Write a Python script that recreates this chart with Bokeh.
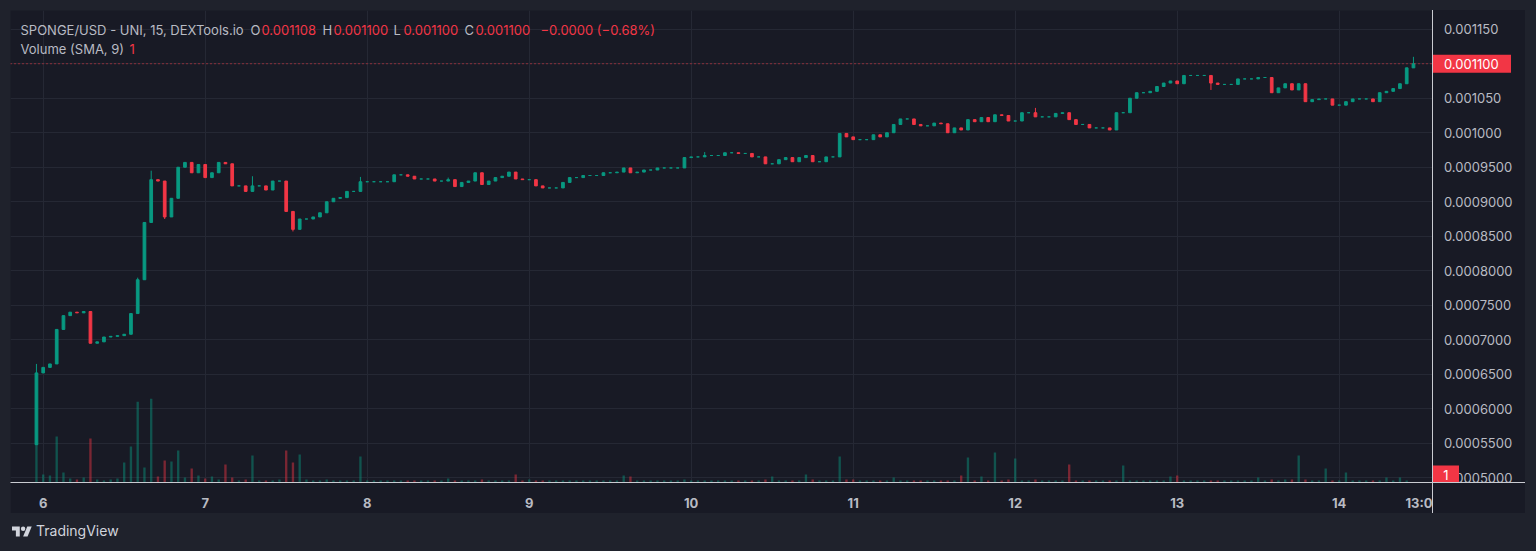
from bokeh.plotting import figure
from bokeh.models import (Range1d, FixedTicker, Label, Span, ColumnDataSource, Div,
                          GlobalInlineStyleSheet)
from bokeh.layouts import column, row
from bokeh.core.properties import value
from bokeh.embed import file_html
from bokeh.resources import INLINE

# ---------------- data (hourly candles, hour 0 = day 6 00:00) ----------------
start_hour = -1
first_open = 0.000548
closes = [
    0.000652, 0.000660, 0.000665, 0.000715, 0.000735, 0.000740, 0.000739, 0.000741,
    0.000695, 0.000697, 0.000704, 0.000705, 0.000706, 0.000708, 0.000738, 0.000787,
    0.000870, 0.000932, 0.000930, 0.000878, 0.000905, 0.000950, 0.000957, 0.000942,
    0.000954, 0.000935, 0.000942, 0.000957, 0.000955, 0.000923, 0.000923, 0.000915,
    0.000923, 0.000923, 0.000917, 0.000930, 0.000930, 0.000886, 0.000860, 0.000875,
    0.000875, 0.000878, 0.000884, 0.000900, 0.000905, 0.000906, 0.000915, 0.000915,
    0.000929, 0.000929, 0.000929, 0.000929, 0.000929, 0.000939, 0.000939, 0.000937,
    0.000933, 0.000933, 0.000933, 0.000930, 0.000930, 0.000932, 0.000922, 0.000928,
    0.000930, 0.000942, 0.000925, 0.000930, 0.000935, 0.000937, 0.000943, 0.000933,
    0.000932, 0.000932, 0.000923, 0.000920, 0.000920, 0.000920, 0.000928, 0.000935,
    0.000935, 0.000938, 0.000938, 0.000938, 0.000942, 0.000942, 0.000943, 0.000949,
    0.000942, 0.000943, 0.000946, 0.000946, 0.000949, 0.000949, 0.000949, 0.000949,
    0.000964, 0.000965, 0.000965, 0.000967, 0.000967, 0.000967, 0.000971, 0.000971,
    0.000970, 0.000970, 0.000965, 0.000965, 0.000955, 0.000955, 0.000961, 0.000964,
    0.000958, 0.000964, 0.000967, 0.000958, 0.000958, 0.000965, 0.000965, 0.000999,
    0.000994, 0.000990, 0.000990, 0.000990, 0.000997, 0.000994, 0.001000, 0.001012,
    0.001020, 0.001020, 0.001012, 0.001010, 0.001010, 0.001014, 0.001013, 0.001000,
    0.001007, 0.001004, 0.001019, 0.001016, 0.001022, 0.001016, 0.001026, 0.001025,
    0.001017, 0.001017, 0.001029, 0.001029, 0.001023, 0.001023, 0.001023, 0.001028,
    0.001029, 0.001019, 0.001012, 0.001012, 0.001007, 0.001007, 0.001007, 0.001004,
    0.001029, 0.001029, 0.001050, 0.001058, 0.001058, 0.001060, 0.001067, 0.001072,
    0.001075, 0.001071, 0.001083, 0.001083, 0.001083, 0.001083, 0.001072, 0.001070,
    0.001070, 0.001070, 0.001078, 0.001078, 0.001078, 0.001080, 0.001080, 0.001058,
    0.001065, 0.001071, 0.001062, 0.001071, 0.001045, 0.001048, 0.001049, 0.001049,
    0.001040, 0.001040, 0.001045, 0.001049, 0.001049, 0.001049, 0.001045, 0.001058,
    0.001060, 0.001064, 0.001071, 0.001094, 0.001100,
]
wick_highs = {-1: 0.000665, 14: 0.000790, 16: 0.000945, 31: 0.000937, 47: 0.000936,
              60: 0.000935, 98: 0.000972, 147: 0.001036, 203: 0.001110}
wick_lows = {-1: 0.000548, 18: 0.000875, 37: 0.000857, 161: 0.001045, 173: 0.001062}
volumes = [
    1900, 400, 350, 2300, 500, 200, 150, 250, 2200, 150, 100, 150, 200, 1000, 1800, 4050,
    750, 4200, 300, 1100, 1050, 1600, 250, 700,
    350, 200, 300, 150, 900, 250, 100, 150, 1350, 100, 100, 100, 150, 1600, 1000, 1400,
    150, 100, 100, 150, 100, 100, 100, 100,
    1300, 100, 100, 100, 100, 100, 100, 100, 100, 100, 100, 100, 100, 200, 100, 100,
    100, 100, 150, 100, 100, 100, 100, 400,
    100, 150, 100, 100, 100, 100, 100, 100, 100, 100, 100, 100, 100, 100, 100, 350,
    300, 100, 100, 100, 100, 100, 100, 100,
    150, 100, 100, 100, 100, 100, 100, 100, 100, 100, 100, 100, 150, 300, 100, 100,
    100, 100, 400, 150, 100, 100, 100, 1300,
    150, 150, 100, 100, 100, 100, 100, 250, 100, 100, 100, 100, 100, 100, 100, 100,
    100, 350, 1250, 100, 300, 100, 1500, 100,
    150, 1200, 100, 100, 150, 100, 100, 100, 100, 900, 100, 100, 100, 100, 100, 100,
    100, 850, 100, 100, 100, 100, 100, 100,
    300, 350, 100, 100, 100, 100, 100, 100, 100, 100, 100, 100, 100, 250, 100, 150,
    100, 150, 150, 1350, 150, 100, 100, 700,
    100, 100, 500, 100, 100, 100, 100, 100, 250, 100, 250, 100, 1,
]
time_ticks = [0, 24, 48, 72, 96, 120, 144, 168, 192, 205]
time_labels = ["6", "7", "8", "9", "10", "11", "12", "13", "14", "13:0"]
price_ticks = [0.0005, 0.00055, 0.0006, 0.00065, 0.0007, 0.00075, 0.0008, 0.00085,
               0.0009, 0.00095, 0.001, 0.00105, 0.0011, 0.00115]
price_labels = ["0.0005000", "0.0005500", "0.0006000", "0.0006500", "0.0007000",
                "0.0007500", "0.0008000", "0.0008500", "0.0009000", "0.0009500",
                "0.001000", "0.001050", "0.001100", "0.001150"]
last_price = 0.0011
last_price_label = "0.001100"
last_volume_label = "1"

# ---------------- styling ----------------
BG = "#181a25"
GRID = "#252834"
TXT = "#b8bbc3"
UP = "#089981"
DOWN = "#f23645"
AXIS = "#c9cbd1"
FONT = "Inter"

# pixel helpers (reference image geometry)
def X(px):
    return (px - 42.7) / 6.75

def Y(py):
    return 0.0005 + (478.3 - py) / 34.58 * 0.00005

hours = list(range(start_hour, start_hour + len(closes)))
opens = [first_open] + closes[:-1]
highs = [wick_highs.get(h, max(o, c)) for h, o, c in zip(hours, opens, closes)]
lows = [wick_lows.get(h, min(o, c)) for h, o, c in zip(hours, opens, closes)]
colors = [UP if c >= o else DOWN for o, c in zip(opens, closes)]
src = ColumnDataSource(dict(
    x=hours, open=opens, close=closes, high=highs, low=lows,
    top=[max(o, c) for o, c in zip(opens, closes)],
    bottom=[min(o, c) for o, c in zip(opens, closes)],
    vol=volumes, color=colors))

# ---------------- main pane ----------------
p = figure(width=1422, height=503, x_range=Range1d(X(10), X(1432)),
           y_range=Range1d(Y(483), Y(10)), y_axis_location=None,
           toolbar_location=None, output_backend="svg",
           min_border_left=0, min_border_top=0, min_border_right=0, min_border_bottom=30,
           background_fill_color=BG, border_fill_color=BG, outline_line_color=None)
p.extra_y_ranges = {"vol": Range1d(0, max(volumes) / 84 * 473)}

p.vbar(x="x", width=0.35, top="vol", bottom=0, y_range_name="vol", source=src,
       fill_color="color", line_color=None, fill_alpha=0.45)
p.segment(x0="x", y0="low", x1="x", y1="high", color="color", line_width=1, source=src)
p.vbar(x="x", width=0.4, top="top", bottom="bottom", fill_color="color",
       line_color="color", line_width=1, source=src)

p.add_layout(Span(location=last_price, dimension="width", line_color=DOWN,
                  line_dash="1 3", line_width=1))

p.xgrid.ticker = FixedTicker(ticks=time_ticks[:-1])
p.ygrid.ticker = FixedTicker(ticks=price_ticks)
p.grid.grid_line_color = GRID

xa = p.xaxis[0]
xa.ticker = FixedTicker(ticks=time_ticks)
xa.major_label_overrides = {t: l for t, l in zip(time_ticks, time_labels)}
xa.axis_line_color = AXIS
xa.major_tick_line_color = None
xa.minor_tick_line_color = None
xa.major_label_text_color = TXT
xa.major_label_text_font = FONT
xa.major_label_text_font_size = "13px"
xa.major_label_text_font_style = "bold"
xa.major_label_standoff = 6

header = [(20, "SPONGE/USD - UNI, 15, DEXTools.io", TXT), (250, "O", TXT),
          (261, "0.001108", DOWN), (322, "H", TXT), (333, "0.001100", DOWN),
          (393, "L", TXT), (403, "0.001100", DOWN), (464, "C", TXT),
          (475, "0.001100", DOWN), (540, "\u22120.0000 (\u22120.68%)", DOWN)]
for px, txt, col in header:
    p.add_layout(Label(x=X(px), y=Y(30), text=txt, text_color=col, text_font=FONT,
                       text_font_size="13px", text_baseline="middle", text_align="left"))
for px, txt, col in [(20, "Volume (SMA, 9)", TXT), (129, "1", DOWN)]:
    p.add_layout(Label(x=X(px), y=Y(49), text=txt, text_color=col, text_font=FONT,
                       text_font_size="13px", text_baseline="middle", text_align="left"))

# ---------------- price scale pane ----------------
r = figure(width=93, height=503, x_range=Range1d(-0.5, 92.5), y_range=Range1d(Y(483), Y(10)),
           y_axis_location=None, toolbar_location=None, output_backend="svg",
           min_border_left=0, min_border_right=0, min_border_top=0, min_border_bottom=30,
           background_fill_color=None, border_fill_color=None, outline_line_color=None)
r.grid.visible = False
rx = r.xaxis[0]
rx.ticker = FixedTicker(ticks=[])
rx.axis_line_color = AXIS
rx.major_tick_line_color = None
rx.minor_tick_line_color = None
rx.major_label_text_font_size = "0px"
r.styles = {"background-color": BG, "box-shadow": "inset 1px 0 0 " + AXIS}

r.text(x=11, y=price_ticks, text=price_labels, text_font=value(FONT),
       text_font_size="13px", text_color=TXT, text_baseline="middle", text_align="left")
r.rect(x=39, y=[last_price], width=78, height=18, height_units="screen",
       fill_color=DOWN, line_color=None)
r.text(x=11, y=[last_price], text=[last_price_label], text_font=value(FONT),
       text_font_size="13px", text_color="white", text_baseline="middle", text_align="left")
r.rect(x=13, y=[Y(475)], width=26, height=18, height_units="screen",
       fill_color=DOWN, line_color=None)
r.text(x=13, y=[Y(475)], text=[last_volume_label], text_font=value(FONT),
       text_font_size="13px", text_color="white", text_baseline="middle", text_align="center")

p.stylesheets = [GlobalInlineStyleSheet(
    css="html, body { background-color: #1f222c !important; margin: 0 !important; } "
        "body { padding: 10px 0 0 10px !important; }")]

logo = ('<div style="display:flex;align-items:center;height:36px;padding-left:2px;'
        'font-family:Inter;font-size:14px;color:#d1d4dc;">'
        '<svg width="20" height="15" viewBox="0 0 36 26" style="margin-right:4px">'
        '<path d="M14 22H7V11H0V4h14v18z" fill="#d1d4dc"/>'
        '<circle cx="20" cy="8" r="4" fill="#d1d4dc"/>'
        '<path d="M28 22h-8l7.5-18h8L28 22z" fill="#d1d4dc"/></svg>'
        '<span>TradingView</span></div>')
div = Div(text=logo, width=300, height=36, margin=0)

layout = column(row(p, r), div)
open("out.html", "w").write(file_html(layout, INLINE))
